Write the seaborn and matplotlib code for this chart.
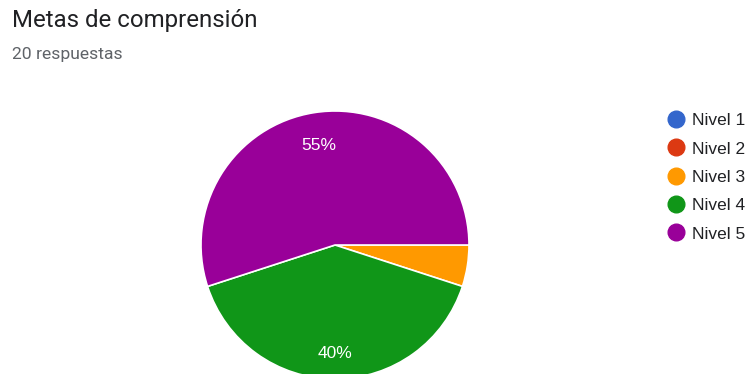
import matplotlib
matplotlib.use("Agg")
import matplotlib.pyplot as plt
from matplotlib.lines import Line2D
import seaborn as sns

# Survey results: "Metas de comprensión" (20 responses)
categories = ["Nivel 1", "Nivel 2", "Nivel 3", "Nivel 4", "Nivel 5"]
counts = [0, 0, 1, 8, 11]
colors = ["#3366cc", "#dc3912", "#ff9900", "#109618", "#990099"]
title = "Metas de comprensión"
subtitle = "20 respuestas"

sns.set_theme(style="white")
plt.rcParams["font.family"] = ["Roboto", "DejaVu Sans"]
body_font = ["Liberation Sans", "DejaVu Sans"]

W, H = 750, 374
fig = plt.figure(figsize=(W / 100, H / 100), dpi=100)
fig.patch.set_facecolor("white")

# Pie axes placed in pixel terms: center (335, 245), radius 134
cx, cy, r = 335, 245, 134
ax = fig.add_axes([(cx - r) / W, (H - cy - r) / H, 2 * r / W, 2 * r / H])


def pct_label(p):
    return f"{p:.0f}%" if p >= 10 else ""


wedges, _, autotexts = ax.pie(
    counts,
    colors=colors,
    startangle=0,
    counterclock=False,
    radius=1.0,
    autopct=pct_label,
    pctdistance=0.78,
    wedgeprops=dict(edgecolor="white", linewidth=1.2),
    textprops=dict(color="white", fontsize=12.5, family=body_font),
)
# nudge percentage labels slightly downward
for t in autotexts:
    x, y = t.get_position()
    t.set_position((x, y - 3.5 / r))

ax.set_xlim(-1, 1)
ax.set_ylim(-1, 1)
ax.set_aspect("equal")
ax.axis("off")

fig.text(12 / W, 1 - 21 / H, title, fontsize=17.3, color="#202124", va="center", ha="left")
fig.text(12 / W, 1 - 54 / H, subtitle, fontsize=12.6, color="#5f6368", va="center", ha="left")

handles = [
    Line2D([0], [0], marker="o", linestyle="none", markersize=12,
           markerfacecolor=c, markeredgecolor=c)
    for c in colors
]
fig.legend(
    handles, categories,
    loc="upper left",
    bbox_to_anchor=(667 / W, 1 - 113 / H),
    frameon=False,
    prop=dict(family=body_font, size=12.5),
    labelspacing=0.76,
    handlelength=1.0,
    handletextpad=0.42,
    borderpad=0,
    borderaxespad=0,
    labelcolor="#202124",
)

fig.savefig("out.png", dpi=100, facecolor="white")
